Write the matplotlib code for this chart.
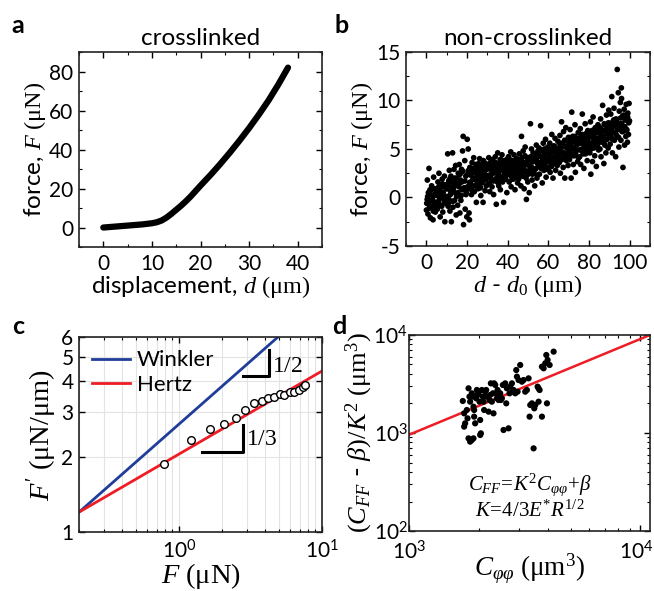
import matplotlib
matplotlib.use("Agg")
import matplotlib.pyplot as plt
from matplotlib.transforms import ScaledTranslation
from matplotlib.ticker import (MultipleLocator, FixedLocator, NullLocator, ScalarFormatter,
                               LogLocator, NullFormatter, LogFormatterSciNotation)

# ---- panel a : crosslinked force curve ----
a_d = [0, 2, 4, 6, 8, 10, 11, 12, 13, 14, 15, 16, 17, 18, 20, 22, 24, 26, 28, 30, 32, 34, 36, 38]
a_f = [0, 0.4, 0.8, 1.2, 1.6, 2.2, 2.7, 3.6, 5.1, 7.0, 9.1, 11.2, 13.5, 16.0, 21.5, 26.8,
       32.4, 38.3, 44.5, 51.0, 57.9, 65.2, 73.3, 82.0]

# ---- panel b : non-crosslinked scatter ----
b_d = [
    0.2, 0.5, 0.8, 1.0, 1.3, 1.5, 1.8, 2.0, 2.3, 2.6, 2.8, 3.1, 3.3, 3.6, 3.9, 4.1, 4.4, 4.6, 4.9, 0.4,
    5.2, 5.4, 5.7, 6.0, 6.2, 6.5, 6.8, 7.0, 7.3, 7.5, 7.8, 8.1, 8.3, 8.6, 8.9, 9.1, 9.4, 9.6, 9.9, 5.9,
    10.2, 10.5, 10.8, 11.0, 11.3, 11.6, 11.8, 12.1, 12.3, 12.6, 12.9, 13.1, 13.4, 13.6, 13.9, 14.2, 14.4, 14.7, 14.9, 10.7,
    15.2, 15.4, 15.7, 16.0, 16.2, 16.5, 16.8, 17.0, 17.3, 17.6, 17.8, 18.1, 18.3, 18.6, 18.9, 19.1, 19.4, 19.6, 19.9, 16.3,
    20.1, 20.4, 20.6, 20.9, 21.2, 21.4, 21.7, 22.0, 22.2, 22.5, 22.8, 23.0, 23.3, 23.6, 23.8, 24.1, 24.4, 24.6, 24.9, 21.0,
    25.1, 25.4, 25.7, 26.0, 26.2, 26.5, 26.8, 27.1, 27.3, 27.6, 27.9, 28.1, 28.4, 28.7, 28.9, 29.2, 29.5, 29.7, 25.9, 27.0,
    30.1, 30.4, 30.7, 30.9, 31.2, 31.5, 31.7, 32.0, 32.3, 32.5, 32.8, 33.1, 33.3, 33.6, 33.9, 34.1, 34.4, 34.7, 34.9, 31.0,
    35.1, 35.4, 35.6, 35.9, 36.2, 36.4, 36.7, 37.0, 37.2, 37.5, 37.8, 38.0, 38.3, 38.6, 38.8, 39.1, 39.4, 39.6, 39.9, 36.0,
    40.1, 40.4, 40.7, 40.9, 41.2, 41.5, 41.7, 42.0, 42.3, 42.5, 42.8, 43.1, 43.3, 43.6, 43.9, 44.1, 44.4, 44.7, 44.9, 41.0,
    45.1, 45.4, 45.7, 45.9, 46.2, 46.5, 46.8, 47.0, 47.3, 47.6, 47.8, 48.1, 48.4, 48.6, 48.9, 49.2, 49.4, 49.7, 49.9, 46.0,
    50.1, 50.4, 50.6, 50.9, 51.2, 51.5, 51.7, 52.0, 52.3, 52.5, 52.8, 53.1, 53.3, 53.6, 53.9, 54.1, 54.4, 54.7, 54.9, 51.0,
    55.1, 55.4, 55.6, 55.9, 56.2, 56.4, 56.7, 57.0, 57.3, 57.5, 57.8, 58.1, 58.3, 58.6, 58.9, 59.1, 59.4, 59.7, 59.9, 56.0,
    60.1, 60.4, 60.7, 60.9, 61.2, 61.5, 61.7, 62.0, 62.3, 62.5, 62.8, 63.1, 63.3, 63.6, 63.9, 64.1, 64.4, 64.7, 64.9, 61.0,
    65.1, 65.4, 65.7, 65.9, 66.2, 66.5, 66.7, 67.0, 67.3, 67.5, 67.8, 68.1, 68.3, 68.6, 68.9, 69.1, 69.4, 69.7, 69.9, 66.0,
    70.1, 70.4, 70.7, 70.9, 71.2, 71.5, 71.7, 72.0, 72.3, 72.5, 72.8, 73.1, 73.3, 73.6, 73.9, 74.1, 74.4, 74.7, 74.9, 71.0,
    75.1, 75.4, 75.7, 75.9, 76.2, 76.5, 76.7, 77.0, 77.3, 77.5, 77.8, 78.1, 78.3, 78.6, 78.9, 79.1, 79.4, 79.7, 79.9, 76.0,
    80.1, 80.4, 80.7, 80.9, 81.2, 81.5, 81.7, 82.0, 82.3, 82.5, 82.8, 83.1, 83.3, 83.6, 83.9, 84.1, 84.4, 84.7, 84.9, 81.0,
    85.1, 85.4, 85.7, 85.9, 86.2, 86.5, 86.7, 87.0, 87.3, 87.5, 87.8, 88.1, 88.3, 88.6, 88.9, 89.1, 89.4, 89.7, 89.9, 86.0,
    90.1, 90.4, 90.7, 90.9, 91.2, 91.5, 91.7, 92.0, 92.3, 92.5, 92.8, 93.1, 93.3, 93.6, 93.9, 94.1, 94.4, 94.7, 94.9, 91.0,
    95.1, 95.4, 95.7, 95.9, 96.2, 96.5, 96.7, 97.0, 97.3, 97.5, 97.8, 98.1, 98.3, 98.6, 98.9, 99.1, 99.4, 99.7, 99.9, 96.0,
]
b_f = [
    -0.6, 1.8, -1.7, 0.5, 3.0, -1.1, 0.8, -2.1, -0.3, 1.2, -0.9, 0.2, -2.3, 2.1, -0.6, 0.9, -1.5, 0.4, -1.0, -0.2,
    0.2, -1.2, 1.6, -0.4, 2.5, 0.7, -2.0, 1.0, -0.8, 0.3, 1.9, -1.5, 0.5, -0.2, 2.2, -2.5, 1.3, -0.6, 0.9, -0.9,
    0.9, 4.5, -0.6, 1.7, 2.8, -1.4, 0.3, 2.2, -2.5, 1.1, 4.6, -1.0, 0.6, 2.9, -0.3, 1.5, 3.3, -1.8, 0.1, -0.9,
    1.3, -0.8, 2.5, 0.2, 3.4, -1.6, 1.8, -0.3, 2.9, 0.8, 4.8, 6.3, -2.8, 1.0, 3.8, -1.2, 2.2, 0.5, -2.0, 1.5,
    6.0, 2.4, 5.0, 0.9, -2.3, 3.1, 1.6, 2.7, 0.3, 3.6, 1.2, 2.0, 4.1, 0.6, 2.9, 1.8, 3.4, -0.5, 2.3, -1.6,
    2.6, 0.9, 3.5, 1.8, 4.0, 2.2, 0.2, 3.0, 1.5, 2.7, -0.5, 3.8, 1.9, 2.4, 0.7, 3.3, 1.2, 2.9, 1.4, 2.1,
    3.2, 1.4, 4.1, 2.3, 0.6, 3.6, 2.0, 2.9, 1.1, 3.9, 2.5, 0.3, 3.4, 1.8, 4.2, 2.7, -0.7, 3.0, 1.6, 2.2,
    4.6, 2.4, 1.2, 3.5, 2.8, 0.8, 3.9, 2.1, 4.4, 1.6, 3.1, -0.5, 2.6, 3.8, 1.9, 3.3, 2.4, 0.5, 3.6, 2.9,
    2.9, 4.2, 1.6, 3.4, 2.3, 4.7, 1.1, 3.1, 2.6, 3.8, 1.9, 4.4, 2.8, 0.8, 3.6, 2.2, 4.0, 3.0, 1.5, 3.3,
    3.3, 1.9, 4.5, 2.6, 3.9, 1.2, 6.3, 3.0, 2.2, 4.8, 3.6, 0.9, 2.8, 5.2, 3.4, -0.2, 2.5, 4.1, 1.6, 3.1,
    2.4, 4.1, 0.5, 3.3, 7.6, 2.9, 5.0, 1.8, 3.7, 4.6, 2.6, 3.9, 1.2, 4.3, 3.0, 5.4, 2.0, 3.5, 4.8, 3.1,
    3.6, 5.1, 2.4, 4.2, 7.4, 3.0, 4.8, 1.5, 3.9, 5.6, 2.8, 4.4, 3.3, 6.0, 2.1, 4.6, 3.7, 5.2, 4.0, 3.2,
    4.5, 3.1, 5.6, 2.6, 4.9, 3.8, 6.5, 4.1, 2.0, 5.3, 3.5, 4.7, 6.1, 2.8, 4.3, 5.0, 3.3, 5.8, 4.0, 3.6,
    5.1, 3.6, 6.4, 2.5, 4.7, 7.8, 4.0, 5.6, 3.1, 6.8, 4.4, 2.0, 5.3, 7.2, 3.8, 5.9, 4.6, 3.3, 6.2, 5.0,
    5.5, 3.9, 7.0, 4.6, 2.0, 8.8, 5.2, 6.3, 3.4, 5.8, 4.3, 7.5, 2.6, 6.0, 4.9, 5.4, 3.7, 6.7, 4.1, 5.0,
    5.8, 4.2, 7.1, 3.4, 6.3, 5.0, 8.6, 4.7, 6.0, 3.0, 5.4, 7.6, 4.5, 6.6, 5.2, 3.8, 6.9, 5.6, 4.9, 6.2,
    6.2, 4.6, 7.8, 2.4, 5.5, 6.9, 3.7, 8.3, 5.1, 6.5, 4.3, 7.2, 5.8, 3.2, 6.7, 5.3, 7.5, 4.9, 6.0, 5.0,
    6.6, 5.0, 8.1, 4.2, 7.0, 5.7, 9.5, 6.2, 3.5, 7.6, 5.4, 6.9, 4.6, 8.5, 6.0, 7.3, 5.1, 9.0, 6.4, 5.8,
    7.1, 5.5, 8.6, 6.2, 10.4, 4.6, 7.8, 6.7, 9.2, 5.9, 7.4, 4.2, 8.1, 6.4, 13.2, 7.0, 10.8, 5.2, 8.9, 6.8,
    7.6, 9.8, 5.9, 11.3, 6.8, 8.4, 3.1, 7.2, 9.1, 5.4, 8.0, 6.3, 9.6, 7.0, 5.7, 8.7, 6.5, 9.7, 7.9, 10.2,
]
# the dense core of the cloud
b_d_core = [
    0.05, 0.65, 1.15, 1.65, 2.15, 2.45, 3.05, 3.45, 4.0, 4.55,
    5.05, 5.6, 6.1, 6.6, 7.15, 7.6, 8.0, 8.45, 9.0, 9.5,
    10.05, 10.6, 11.15, 11.5, 12.0, 12.45, 13.0, 13.5, 14.0, 14.55,
    15.05, 15.55, 16.1, 16.6, 17.15, 17.45, 18.0, 18.45, 19.0, 19.5,
    20.25, 20.75, 21.3, 21.85, 22.35, 22.65, 23.15, 23.5, 24.0, 24.5,
    25.25, 25.6, 26.1, 26.65, 27.2, 27.5, 28.0, 28.55, 29.05, 29.4,
    30.25, 30.55, 31.1, 31.6, 32.15, 32.65, 33.0, 33.45, 34.0, 34.55,
    35.25, 35.75, 36.3, 36.85, 37.35, 37.65, 38.15, 38.45, 39.0, 39.5,
    40.25, 40.55, 41.1, 41.6, 42.15, 42.65, 43.0, 43.45, 44.0, 44.55,
    45.25, 45.6, 46.1, 46.65, 47.15, 47.45, 48.0, 48.5, 49.05, 49.55,
    50.25, 50.75, 51.35, 51.85, 52.15, 52.65, 53.0, 53.45, 54.0, 54.55,
    55.25, 55.75, 56.3, 56.85, 57.15, 57.65, 58.0, 58.45, 59.0, 59.55,
    60.25, 60.55, 61.1, 61.6, 62.15, 62.65, 63.0, 63.45, 64.0, 64.55,
    65.25, 65.55, 66.1, 66.6, 67.15, 67.65, 68.0, 68.45, 69.0, 69.55,
    70.25, 70.55, 71.1, 71.6, 72.15, 72.65, 73.0, 73.45, 74.0, 74.55,
    75.25, 75.55, 76.1, 76.6, 77.15, 77.65, 78.0, 78.45, 79.0, 79.55,
    80.25, 80.55, 81.1, 81.6, 82.15, 82.65, 83.0, 83.45, 84.0, 84.55,
    85.25, 85.55, 86.1, 86.6, 87.15, 87.65, 88.0, 88.45, 89.0, 89.55,
    90.25, 90.55, 91.1, 91.6, 92.15, 92.65, 93.0, 93.45, 94.0, 94.55,
    95.25, 95.55, 96.1, 96.6, 97.15, 97.65, 98.0, 98.45, 99.0, 99.55,
]
b_f_core = [
    -1.3, 0.1, -0.7, 0.6, -1.0, 0.8, -0.2, -1.4, 0.3, -0.5,
    0.7, -0.6, 1.1, -0.1, 0.5, -0.9, 1.4, 0.0, -0.4, 1.0,
    0.1, 1.3, -0.2, 1.9, 0.6, 1.6, -0.4, 1.0, 2.0, 0.4,
    2.0, 0.5, 1.1, 2.4, 0.2, 1.6, 2.7, 0.9, 1.7, 0.3,
    1.1, 2.8, 1.5, 2.3, 0.8, 3.0, 1.9, 2.6, 1.2, 3.1,
    1.6, 3.0, 2.3, 1.0, 2.8, 3.4, 1.7, 2.5, 3.5, 1.9,
    2.1, 3.4, 1.5, 2.9, 2.4, 3.2, 1.7, 2.6, 3.6, 2.0,
    2.2, 3.3, 3.9, 1.7, 2.9, 3.6, 2.3, 3.1, 1.9, 3.9,
    3.6, 2.4, 3.9, 2.8, 1.9, 3.4, 3.1, 2.2, 3.7, 2.6,
    2.8, 3.9, 2.3, 3.5, 4.1, 2.7, 3.2, 4.3, 2.0, 3.7,
    3.9, 2.8, 4.2, 3.1, 2.4, 3.7, 4.5, 2.9, 3.9, 2.3,
    4.4, 3.2, 4.9, 3.6, 4.2, 3.0, 5.0, 3.9, 4.6, 2.9,
    3.7, 5.0, 4.4, 3.2, 4.7, 4.0, 5.3, 3.6, 4.9, 4.5,
    4.3, 5.6, 4.9, 3.9, 5.3, 4.6, 5.9, 4.1, 5.1, 4.4,
    4.8, 6.0, 5.4, 4.3, 5.8, 5.0, 6.3, 4.6, 5.5, 6.1,
    6.0, 4.9, 5.6, 6.5, 4.5, 5.9, 5.1, 6.2, 4.7, 5.7,
    5.6, 6.7, 5.1, 6.3, 5.8, 7.0, 5.4, 6.1, 6.9, 5.6,
    6.1, 7.2, 5.8, 6.8, 6.3, 7.5, 5.9, 7.0, 6.6, 7.7,
    6.5, 7.6, 7.1, 6.0, 8.0, 7.3, 6.6, 7.9, 7.4, 6.2,
    7.1, 8.2, 7.6, 6.8, 8.5, 7.3, 8.0, 6.9, 8.3, 7.7,
]

# ---- panel c : stiffness vs force ----
c_f = [0.78, 1.21, 1.64, 2.07, 2.51, 2.90, 3.35, 3.80, 4.16, 4.58, 5.05, 5.44, 5.93, 6.33, 6.85, 7.31, 7.64]
c_k = [1.86, 2.33, 2.57, 2.70, 2.84, 3.07, 3.26, 3.34, 3.42, 3.47, 3.54, 3.52, 3.61, 3.63, 3.70, 3.78, 3.86]
winkler_f = [0.2, 4.92]
winkler_k = [1.2, 6.0]
hertz_f = [0.2, 10.0]
hertz_k = [1.2, 4.39]
tri_half_f = [2.79, 4.23, 4.23]
tri_half_k = [4.19, 4.19, 5.33]
tri_third_f = [1.44, 2.82, 2.82]
tri_third_k = [2.09, 2.09, 2.67]

# ---- panel d : fluctuation scaling ----
d_cpp = [1708, 1731, 1748, 1731, 1790, 1808, 1825, 1837, 1778, 1868, 1886, 1899, 1912, 1931, 1951,
         1964, 1977, 1996, 2016, 2030, 2044, 2064, 2085, 2099, 2112, 2134, 2155, 2170, 2207, 2229,
         2243, 2258, 2280, 2303, 2318, 2334, 2358, 2381, 2397, 2413, 2438, 2462, 2478, 2494, 2519,
         2544, 2561, 2604, 2631, 2648, 2692, 2719, 2737, 2784, 2811, 2830, 2877, 2907, 2926, 2945,
         2974, 3023, 3075, 3127, 3178, 3231, 3286, 3341, 3319, 3398, 3454, 3477, 3512, 3595, 3630,
         3667, 3630, 3753, 3753, 3817, 3880, 3920, 3945, 3971, 4051, 4216, 1808, 1837, 1899, 1868,
         2030, 1912, 1996]
d_cff = [2121, 1587, 1255, 1161, 1411, 2856, 2348, 2087, 1716, 2540, 2348, 1856, 1468, 1255, 2258,
         2746, 2442, 2640, 2087, 1357, 992, 2746, 2348, 2087, 1716, 2640, 2746, 2348, 1650, 2171,
         2442, 3210, 2087, 2540, 1587, 3210, 3090, 2540, 2258, 2746, 2171, 2348, 2540, 2171, 2258,
         3090, 1073, 3210, 2007, 2856, 1116, 2540, 2970, 3210, 2640, 2746, 2540, 4390, 3760, 2640,
         3470, 4940, 3340, 3470, 2640, 2746, 3610, 1930, 1468, 2007, 697, 1785, 1930, 2970, 2856,
         2746, 2087, 1468, 4750, 4570, 5140, 6250, 2007, 5560, 4940, 6760, 882, 816, 882, 848,
         954, 1716, 2540]
fit_cpp = [1000, 11000]
fit_cff = [960, 10000]

plt.rcParams['font.family'] = ['Lato', 'DejaVu Sans']
plt.rcParams['mathtext.fontset'] = 'custom'
plt.rcParams['mathtext.rm'] = 'Liberation Serif'
plt.rcParams['mathtext.it'] = 'Liberation Serif:italic'
plt.rcParams['mathtext.bf'] = 'Liberation Serif:bold'
plt.rcParams.update({
    'axes.unicode_minus': False,
    'xtick.direction': 'in', 'ytick.direction': 'in',
    'xtick.top': True, 'ytick.right': True,
    'xtick.major.size': 4.5, 'ytick.major.size': 4.5,
    'xtick.minor.size': 2.5, 'ytick.minor.size': 2.5,
    'xtick.major.width': 1.0, 'ytick.major.width': 1.0,
    'xtick.minor.width': 0.8, 'ytick.minor.width': 0.8,
    'xtick.labelsize': 15, 'ytick.labelsize': 15,
    'axes.linewidth': 1.2, 'axes.edgecolor': '#222222',
    'xtick.major.pad': 5, 'ytick.major.pad': 4,
})

fig = plt.figure(figsize=(6.54, 5.91), dpi=100)
lab = 17.5      # sans labels, top row
serif_lab = 20.5  # serif labels, bottom row

# a
ax = fig.add_axes([0.1208, 0.582, 0.3716, 0.330])
ax.plot(a_d, a_f, color='k', lw=4.5, solid_capstyle='round', solid_joinstyle='round')
ax.set_xlim(-5, 45)
ax.set_ylim(-10, 90)
ax.xaxis.set_major_locator(MultipleLocator(10))
ax.xaxis.set_minor_locator(MultipleLocator(5))
ax.yaxis.set_major_locator(MultipleLocator(20))
ax.yaxis.set_minor_locator(MultipleLocator(10))
ax.set_title('crosslinked', fontsize=lab, pad=5)
ax.set_xlabel(r'displacement, $d\ (\mathrm{μm})$', fontsize=lab, labelpad=0)
ax.set_ylabel(r'force, $F\ (\mathrm{μN})$', fontsize=lab, labelpad=1)
fig.text(0.018, 0.957, 'a', fontsize=18, fontweight='bold', va='center')

# b
ax = fig.add_axes([0.6208, 0.5838, 0.3731, 0.3282])
ax.scatter(b_d, b_f, s=17, color='k', edgecolors='none')
ax.scatter(b_d_core, b_f_core, s=17, color='k', edgecolors='none')
ax.set_xlim(-10, 110)
ax.set_ylim(-5, 15)
ax.xaxis.set_major_locator(MultipleLocator(20))
ax.xaxis.set_minor_locator(MultipleLocator(10))
ax.yaxis.set_major_locator(MultipleLocator(5))
ax.yaxis.set_minor_locator(MultipleLocator(2.5))
ax.set_title('non-crosslinked', fontsize=lab, pad=5)
ax.set_xlabel(r'$d$ - $d_0\ (\mathrm{μm})$', fontsize=lab, labelpad=0)
ax.set_ylabel(r'force, $F\ (\mathrm{μN})$', fontsize=lab, labelpad=1)
fig.text(0.512, 0.957, 'b', fontsize=18, fontweight='bold', va='center')

# c
ax = fig.add_axes([0.1208, 0.0998, 0.3716, 0.3300])
ax.set_xscale('log')
ax.set_yscale('log')
ax.grid(True, which='both', color='#e3e3e3', lw=0.8)
ax.set_axisbelow(True)
ax.plot(winkler_f, winkler_k, color='#1f3d99', lw=2, label='Winkler')
ax.plot(hertz_f, hertz_k, color='#ee1c25', lw=2, label='Hertz')
ax.plot(c_f, c_k, 'o', mfc='white', mec='k', mew=1.0, ms=5.5)
ax.plot(tri_half_f, tri_half_k, color='k', lw=2.2)
ax.plot(tri_third_f, tri_third_k, color='k', lw=2.2)
ax.text(4.45, 4.62, '$1/2$', fontsize=17, va='center', ha='left')
ax.text(2.95, 2.36, '$1/3$', fontsize=17, va='center', ha='left')
ax.set_xlim(0.2, 10)
ax.set_ylim(1, 6)
ax.yaxis.set_major_locator(FixedLocator([1, 2, 3, 4, 5, 6]))
ax.yaxis.set_major_formatter(ScalarFormatter())
ax.yaxis.set_minor_locator(NullLocator())
ax.set_xlabel(r'$F\ (\mathrm{μN})$', fontsize=serif_lab, labelpad=-1)
ax.set_ylabel(r"$F'\ (\mathrm{μN/μm})$", fontsize=serif_lab, labelpad=2)
ax.legend(loc='upper left', frameon=False, fontsize=16, handlelength=1.7,
          handletextpad=0.3, borderaxespad=0.2, labelspacing=0.2)
fig.text(0.018, 0.447, 'c', fontsize=18, fontweight='bold', va='center')

# d
ax = fig.add_axes([0.6254, 0.1015, 0.3685, 0.3317])
ax.set_xscale('log')
ax.set_yscale('log')
ax.plot(fit_cpp, fit_cff, color='#ee1c25', lw=1.8)
ax.scatter(d_cpp, d_cff, s=20, color='k', edgecolors='none', zorder=3)
ax.set_xlim(1000, 11000)
ax.set_ylim(100, 10000)
ax.xaxis.set_major_locator(FixedLocator([1e3, 1e4]))
ax.xaxis.set_major_formatter(LogFormatterSciNotation())
ax.yaxis.set_minor_locator(LogLocator(base=10, subs=range(2, 10)))
ax.yaxis.set_minor_formatter(NullFormatter())
ax.xaxis.set_minor_formatter(NullFormatter())
ax.tick_params(axis='y', pad=1)
ax.tick_params(axis='x', pad=7)
# pull the right-most tick label slightly inside the figure
last = ax.xaxis.get_major_ticks()[-1].label1
last.set_transform(last.get_transform() + ScaledTranslation(-3 / 72, 0, fig.dpi_scale_trans))
ax.text(0.5, 0.235, r'$C_{FF}\!=\!K^2C_{\varphi\varphi}\!+\!\beta$', transform=ax.transAxes,
        fontsize=15, ha='center', va='center')
ax.text(0.5, 0.105, r'$K\!=\!\mathit{4/3}E^{*}R^{\mathit{1/2}}$', transform=ax.transAxes,
        fontsize=15, ha='center', va='center')
ax.set_xlabel(r'$C_{\varphi\varphi}\ (\mathrm{μm}^3)$', fontsize=19.5, labelpad=-9)
ax.set_ylabel(r'$(C_{FF}$ - $\beta)/K^2\ (\mathrm{μm}^3)$', fontsize=19, labelpad=-1)
fig.text(0.508, 0.447, 'd', fontsize=18, fontweight='bold', va='center')

fig.savefig('out.png', dpi=100)
